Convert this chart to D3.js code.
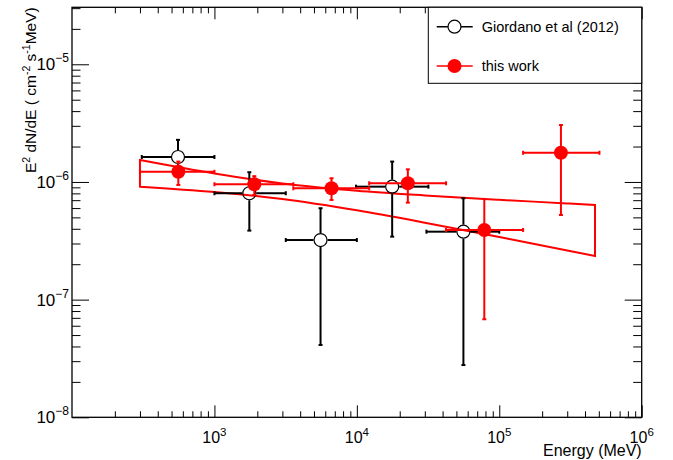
<!DOCTYPE html>
<html>
<head>
<meta charset="utf-8">
<script src="https://cdnjs.cloudflare.com/ajax/libs/d3/7.8.5/d3.min.js"></script>
<style>
    body { margin: 0; background: #fff; }
    text { font-family: "Liberation Sans", Arial, sans-serif; fill: #000; }
</style>
</head>
<body>
<div id="chart-area"></div>
<script>
/*
*    SED plot: E^2 dN/dE vs energy
*/

// Giordano et al (2012)
const gEnergy = [555, 1758, 5560, 17700, 56000];
const gFlux   = [1.63e-6, 8.02e-7, 3.21e-7, 9.12e-7, 3.78e-7];
const gElo    = [309, 1000, 3170, 9860, 30800];
const gEhi    = [1000, 3170, 10000, 31800, 100000];
const gFlo    = [1.15e-6, 3.86e-7, 4.12e-8, 3.43e-7, 2.78e-8];
const gFhi    = [2.28e-6, 1.21e-6, 5.98e-7, 1.49e-6, 7.27e-7];

// this work
const wEnergy = [558, 1905, 6640, 22800, 78500, 271000];
const wFlux   = [1.22e-6, 9.56e-7, 8.84e-7, 9.75e-7, 3.91e-7, 1.77e-6];
const wElo    = [300, 1000, 3580, 12200, 42300, 147000];
const wEhi    = [1000, 3580, 12200, 42300, 147000, 505000];
const wFlo    = [9.43e-7, 7.75e-7, 7.03e-7, 6.67e-7, 6.81e-8, 5.24e-7];
const wFhi    = [1.49e-6, 1.12e-6, 1.075e-6, 1.28e-6, 7.17e-7, 3.05e-6];

// butterfly of the power-law fit
const bfEnergy = [300, 1000, 3000, 10000, 30000, 100000, 300000, 470000];
const bfUpper  = [1.535e-6, 1.18e-6, 9.71e-7, 8.42e-7, 7.68e-7, 7.05e-7, 6.57e-7, 6.37e-7];
const bfLower  = [9.12e-7, 8.22e-7, 7.16e-7, 5.74e-7, 4.51e-7, 3.40e-7, 2.62e-7, 2.35e-7];

// axes
const xDecades = [2, 3, 4, 5];
const xLabelExp = [3, 4, 5, 6];
const yDecades = [-8, -7, -6, -5];
const yLabelExp = [-8, -7, -6, -5];

const margin = { top: 7.3, right: 31.3, bottom: 42.7, left: 72 };
const width = 673 - margin.left - margin.right;
const height = 460 - margin.top - margin.bottom;

const svg = d3.select("#chart-area").append("svg")
    .attr("width", 673)
    .attr("height", 460);

const g = svg.append("g")
    .attr("transform", `translate(${margin.left}, ${margin.top})`);

const x = d3.scaleLog()
    .domain([100, 1e6])
    .range([0, width]);

const y = d3.scaleLog()
    .domain([1e-8, 3.05e-5])
    .range([height, 0]);

// tick positions
const xMinor = [];
xDecades.forEach(e => d3.range(2, 10).forEach(m => xMinor.push(m * Math.pow(10, e))));
const xMajor = xLabelExp.map(e => Math.pow(10, e));
const yMinor = [];
yDecades.forEach(e => d3.range(2, 10).forEach(m => {
    const v = m * Math.pow(10, e);
    if (v < 3.05e-5) yMinor.push(v);
}));
const yMajor = yLabelExp.map(e => Math.pow(10, e));

function tickAxis(axis, vals, size) {
    return axis.tickValues(vals).tickSize(size).tickSizeOuter(0).tickFormat("");
}

const axes = [
    [d3.axisBottom(x), xMinor, -6, `translate(0, ${height})`],
    [d3.axisBottom(x), xMajor, -12, `translate(0, ${height})`],
    [d3.axisTop(x), xMinor, -6, "translate(0, 0)"],
    [d3.axisTop(x), xMajor, -12, "translate(0, 0)"],
    [d3.axisLeft(y), yMinor, -8.5, "translate(0, 0)"],
    [d3.axisLeft(y), yMajor, -17, "translate(0, 0)"],
    [d3.axisRight(y), yMinor, -8.5, `translate(${width}, 0)`],
    [d3.axisRight(y), yMajor, -17, `translate(${width}, 0)`]
];
axes.forEach(a => {
    const ag = g.append("g")
        .attr("transform", a[3])
        .call(tickAxis(a[0], a[1], a[2]));
    ag.select(".domain").remove();
    ag.selectAll("line").attr("stroke", "#000").attr("stroke-width", 1);
});

g.append("rect")
    .attr("x", 0).attr("y", 0)
    .attr("width", width).attr("height", height)
    .attr("fill", "none")
    .attr("stroke", "#000")
    .attr("stroke-width", 1.3);

// tick labels
xLabelExp.forEach(e => {
    const t = g.append("text")
        .attr("x", x(Math.pow(10, e)))
        .attr("y", height + 25.5)
        .attr("text-anchor", "middle")
        .style("font-size", "16px");
    t.append("tspan").text("10");
    t.append("tspan").attr("dy", -7).style("font-size", "11.5px").text(e);
});

yLabelExp.forEach(e => {
    const t = g.append("text")
        .attr("x", -3)
        .attr("y", y(Math.pow(10, e)) + 6)
        .attr("text-anchor", "end")
        .style("font-size", "17px");
    t.append("tspan").text("10");
    t.append("tspan").attr("dy", -8).style("font-size", "12px").text("\u2212" + Math.abs(e));
});

// axis titles
g.append("text")
    .attr("x", width)
    .attr("y", height + 38.5)
    .attr("text-anchor", "end")
    .style("font-size", "16px")
    .text("Energy (MeV)");

const yt = g.append("text")
    .attr("transform", `translate(-36, 0) rotate(-90)`)
    .attr("text-anchor", "end")
    .style("font-size", "15.5px");
yt.append("tspan").text("E");
yt.append("tspan").attr("dy", -6).style("font-size", "10.5px").text("2");
yt.append("tspan").attr("dy", 6).text(" dN/dE ( cm");
yt.append("tspan").attr("dy", -6).style("font-size", "10.5px").text("-2");
yt.append("tspan").attr("dy", 6).text(" s");
yt.append("tspan").attr("dy", -6).style("font-size", "10.5px").text("-1");
yt.append("tspan").attr("dy", 6).text("MeV)");

// butterfly
const bfData = bfEnergy.map((e, i) => ({ e: e, lo: bfLower[i], hi: bfUpper[i] }));
g.append("path")
    .datum(bfData)
    .attr("d", d3.area()
        .x(d => x(d.e))
        .y0(d => y(d.lo))
        .y1(d => y(d.hi))
        .curve(d3.curveMonotoneX))
    .attr("fill", "none")
    .attr("stroke", "red")
    .attr("stroke-width", 2);

// points with asymmetric error bars
function drawSeries(en, fl, elo, ehi, flo, fhi, color, filled) {
    const r = 7;
    const cap = 2;
    const sg = g.append("g");
    en.forEach((e, i) => {
        const cx = x(e), cy = y(fl[i]);
        const gap = filled ? 0 : r;
        const segs = [
            [cx - gap, cy, x(elo[i]), cy],
            [cx + gap, cy, x(ehi[i]), cy],
            [cx, cy - gap, cx, y(fhi[i])],
            [cx, cy + gap, cx, y(flo[i])]
        ];
        segs.forEach(s => {
            sg.append("line")
                .attr("x1", s[0]).attr("y1", s[1])
                .attr("x2", s[2]).attr("y2", s[3])
                .attr("stroke", color).attr("stroke-width", 2);
        });
        [x(elo[i]), x(ehi[i])].forEach(px => {
            sg.append("line")
                .attr("x1", px).attr("x2", px)
                .attr("y1", cy - cap).attr("y2", cy + cap)
                .attr("stroke", color).attr("stroke-width", 2);
        });
        [y(flo[i]), y(fhi[i])].forEach(py => {
            sg.append("line")
                .attr("x1", cx - cap).attr("x2", cx + cap)
                .attr("y1", py).attr("y2", py)
                .attr("stroke", color).attr("stroke-width", 2);
        });
    });
    sg.selectAll("circle")
        .data(en)
        .enter()
        .append("circle")
        .attr("cx", d => x(d))
        .attr("cy", (d, i) => y(fl[i]))
        .attr("r", filled ? r : r - 0.5)
        .attr("fill", filled ? color : "none")
        .attr("stroke", color)
        .attr("stroke-width", filled ? 0 : 1.2);
}

drawSeries(gEnergy, gFlux, gElo, gEhi, gFlo, gFhi, "#000", false);
drawSeries(wEnergy, wFlux, wElo, wEhi, wFlo, wFhi, "red", true);

// legend
const legend = svg.append("g");
legend.append("rect")
    .attr("x", 428.3).attr("y", 7.3)
    .attr("width", 213.4).attr("height", 76)
    .attr("fill", "#fff")
    .attr("stroke", "#000")
    .attr("stroke-width", 1);

const legendItems = [
    { label: "Giordano et al (2012)", color: "#000", filled: false, yPos: 26.7 },
    { label: "this work", color: "red", filled: true, yPos: 66 }
];
legendItems.forEach(item => {
    legend.append("line")
        .attr("x1", 436.7).attr("x2", 472.7)
        .attr("y1", item.yPos).attr("y2", item.yPos)
        .attr("stroke", item.color).attr("stroke-width", 1.5);
    legend.append("circle")
        .attr("cx", 454.5).attr("cy", item.yPos)
        .attr("r", item.filled ? 7 : 6.5)
        .attr("fill", item.filled ? item.color : "#fff")
        .attr("stroke", item.color)
        .attr("stroke-width", item.filled ? 0 : 1.2);
    legend.append("text")
        .attr("x", 481.7)
        .attr("y", item.yPos + 5)
        .style("font-size", "14.5px")
        .text(item.label);
});
</script>
</body>
</html>
